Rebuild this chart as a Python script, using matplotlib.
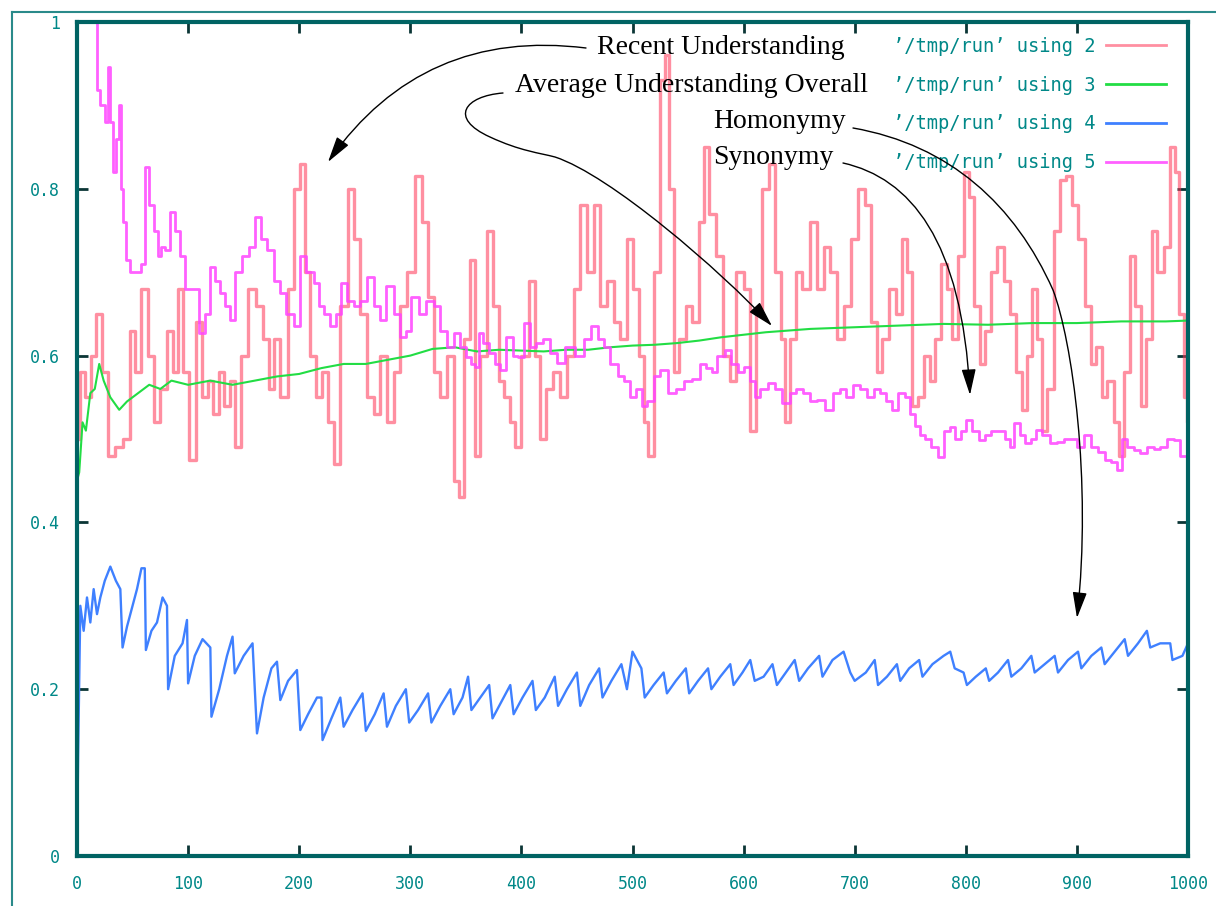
import matplotlib
matplotlib.use("Agg")
import matplotlib.pyplot as plt
from matplotlib.path import Path
from matplotlib.patches import FancyArrowPatch
from matplotlib.lines import Line2D

# column 2: recent understanding
recent_x = [0, 5, 10, 15, 20, 25, 30, 38, 45, 50, 55, 61, 66, 72, 78, 84, 88, 93, 98, 104,
            110, 115, 120, 125, 130, 135, 140, 145, 150, 157, 165, 170, 175, 180, 186, 193,
            198, 203, 208, 212, 218, 223, 228, 234, 240, 247, 252, 258, 264, 270, 276, 282,
            288, 294, 300, 308, 313, 318, 324, 330, 336, 342, 345, 351, 356, 360, 366, 372,
            377, 382, 387, 393, 396, 403, 410, 415, 419, 425, 432, 438, 444, 450, 456, 462,
            468, 474, 480, 486, 492, 498, 503, 508, 512, 516, 522, 527, 531, 535, 539, 545,
            551, 557, 563, 566, 572, 578, 585, 590, 597, 603, 608, 614, 620, 625, 631, 636,
            639, 645, 650, 656, 663, 669, 675, 681, 687, 693, 700, 706, 712, 718, 722, 728,
            734, 740, 745, 750, 754, 760, 765, 770, 775, 781, 786, 790, 796, 801, 805, 810,
            815, 820, 826, 831, 837, 842, 848, 853, 858, 862, 866, 871, 876, 882, 888, 893,
            898, 904, 910, 915, 920, 925, 930, 936, 940, 945, 950, 955, 960, 965, 970, 975,
            981, 986, 990, 994, 998, 1000]
recent_y = [0.50, 0.58, 0.55, 0.60, 0.65, 0.58, 0.48, 0.49, 0.50, 0.63, 0.58, 0.68, 0.60, 0.52,
            0.56, 0.63, 0.58, 0.68, 0.58, 0.475, 0.64, 0.55, 0.57, 0.53, 0.58, 0.54, 0.57, 0.49,
            0.60, 0.68, 0.66, 0.62, 0.56, 0.62, 0.55, 0.68, 0.80, 0.83, 0.70, 0.60, 0.55, 0.58,
            0.52, 0.47, 0.66, 0.80, 0.74, 0.65, 0.55, 0.53, 0.60, 0.52, 0.58, 0.66, 0.70, 0.815,
            0.76, 0.67, 0.58, 0.55, 0.60, 0.45, 0.43, 0.62, 0.715, 0.48, 0.60, 0.75, 0.66, 0.57,
            0.55, 0.52, 0.49, 0.60, 0.69, 0.60, 0.50, 0.56, 0.58, 0.55, 0.60, 0.68, 0.78, 0.70,
            0.78, 0.66, 0.69, 0.64, 0.62, 0.74, 0.68, 0.60, 0.52, 0.48, 0.70, 0.93, 0.96, 0.80,
            0.58, 0.62, 0.66, 0.64, 0.76, 0.85, 0.77, 0.72, 0.60, 0.57, 0.70, 0.68, 0.51, 0.65,
            0.80, 0.83, 0.70, 0.62, 0.52, 0.62, 0.70, 0.68, 0.76, 0.68, 0.73, 0.70, 0.62, 0.66,
            0.74, 0.80, 0.78, 0.64, 0.58, 0.62, 0.68, 0.65, 0.74, 0.70, 0.54, 0.55, 0.60, 0.57,
            0.62, 0.71, 0.68, 0.62, 0.72, 0.82, 0.79, 0.66, 0.59, 0.63, 0.70, 0.73, 0.69, 0.65,
            0.58, 0.535, 0.60, 0.68, 0.62, 0.51, 0.56, 0.75, 0.81, 0.815, 0.78, 0.74, 0.66, 0.59,
            0.61, 0.55, 0.57, 0.52, 0.48, 0.58, 0.72, 0.66, 0.54, 0.62, 0.75, 0.70, 0.73, 0.85,
            0.82, 0.65, 0.55, 0.52]

# column 3: average understanding overall
average_x = [0, 2, 5, 8, 12, 16, 20, 24, 30, 38, 45, 55, 65, 75, 85, 100, 120, 140, 160, 180,
             200, 220, 240, 260, 280, 300, 320, 340, 360, 380, 400, 420, 440, 460, 480, 500,
             520, 540, 560, 580, 600, 620, 640, 660, 680, 700, 740, 780, 820, 860, 900, 940,
             980, 1000]
average_y = [0.45, 0.46, 0.52, 0.51, 0.555, 0.56, 0.59, 0.57, 0.55, 0.535, 0.545, 0.555, 0.565,
             0.56, 0.57, 0.565, 0.57, 0.565, 0.57, 0.575, 0.578, 0.585, 0.59, 0.59, 0.595, 0.60,
             0.608, 0.61, 0.605, 0.607, 0.606, 0.605, 0.607, 0.607, 0.61, 0.612, 0.613, 0.615,
             0.618, 0.622, 0.625, 0.628, 0.63, 0.632, 0.633, 0.634, 0.636, 0.638, 0.637, 0.639,
             0.639, 0.641, 0.641, 0.642]

# column 4: homonymy
homonymy_x = [0, 1, 3, 6, 9, 12, 15, 18, 21, 25, 30, 35, 39, 41, 45, 50, 54, 58, 61, 62, 67, 72,
              77, 81, 82, 88, 95, 99, 100, 106, 113, 120, 121, 128, 135, 140, 142, 150, 158,
              162, 168, 175, 180, 183, 190, 198, 201, 208, 216, 220, 221, 229, 237, 240, 248,
              257, 260, 268, 276, 279, 287, 296, 299, 307, 316, 319, 327, 336, 339, 347, 352,
              355, 363, 371, 374, 382, 390, 393, 401, 410, 413, 421, 430, 433, 441, 450, 453,
              461, 470, 473, 481, 490, 495, 500, 508, 511, 519, 528, 531, 539, 548, 551, 559,
              568, 571, 579, 588, 591, 599, 606, 610, 618, 626, 630, 638, 646, 650, 658, 668,
              671, 680, 690, 696, 700, 710, 718, 721, 729, 738, 741, 749, 758, 761, 770, 780,
              786, 790, 798, 801, 809, 818, 821, 829, 838, 841, 850, 859, 862, 871, 880, 883,
              892, 901, 904, 913, 922, 925, 934, 943, 946, 955, 963, 966, 975, 984, 986, 995,
              1000]
homonymy_y = [0.0, 0.12, 0.30, 0.27, 0.31, 0.28, 0.32, 0.29, 0.31, 0.33, 0.347, 0.33, 0.32,
              0.25, 0.275, 0.30, 0.32, 0.345, 0.345, 0.247, 0.27, 0.28, 0.31, 0.30, 0.20, 0.24,
              0.255, 0.283, 0.207, 0.24, 0.26, 0.25, 0.167, 0.20, 0.24, 0.263, 0.219, 0.24,
              0.255, 0.147, 0.19, 0.225, 0.233, 0.187, 0.21, 0.223, 0.151, 0.17, 0.19, 0.19,
              0.139, 0.165, 0.19, 0.155, 0.175, 0.195, 0.15, 0.17, 0.195, 0.155, 0.18, 0.20,
              0.16, 0.175, 0.195, 0.16, 0.18, 0.20, 0.17, 0.19, 0.215, 0.175, 0.19, 0.205, 0.165,
              0.185, 0.205, 0.17, 0.19, 0.21, 0.175, 0.19, 0.215, 0.18, 0.20, 0.22, 0.18, 0.205,
              0.225, 0.19, 0.21, 0.23, 0.20, 0.245, 0.225, 0.19, 0.205, 0.22, 0.195, 0.21, 0.225,
              0.195, 0.21, 0.225, 0.20, 0.215, 0.23, 0.205, 0.22, 0.235, 0.21, 0.215, 0.23,
              0.205, 0.22, 0.235, 0.21, 0.225, 0.24, 0.215, 0.235, 0.245, 0.22, 0.21, 0.22,
              0.235, 0.205, 0.215, 0.23, 0.21, 0.225, 0.235, 0.215, 0.23, 0.24, 0.245, 0.225,
              0.22, 0.205, 0.215, 0.225, 0.21, 0.22, 0.235, 0.215, 0.225, 0.24, 0.22, 0.23, 0.24,
              0.22, 0.235, 0.245, 0.225, 0.24, 0.25, 0.23, 0.245, 0.26, 0.24, 0.255, 0.27, 0.25,
              0.255, 0.255, 0.235, 0.24, 0.255]

# column 5: synonymy
synonymy_x = [0, 17, 19, 23, 27, 28, 31, 34, 37, 39, 40, 42, 46, 50, 55, 60, 63, 67, 72, 74, 78,
              81, 86, 90, 95, 100, 107, 113, 117, 122, 127, 131, 136, 140, 145, 152, 158, 163,
              168, 174, 180, 185, 192, 198, 203, 210, 216, 220, 225, 231, 236, 240, 246, 252,
              258, 264, 270, 275, 282, 288, 294, 298, 304, 311, 318, 324, 330, 336, 342, 348,
              352, 357, 360, 363, 368, 374, 379, 383, 390, 395, 399, 405, 410, 416, 423, 429,
              435, 444, 453, 460, 466, 472, 477, 483, 490, 495, 500, 506, 511, 516, 522, 528,
              536, 543, 550, 558, 563, 570, 573, 580, 586, 592, 598, 603, 608, 612, 618, 626,
              631, 639, 644, 650, 657, 663, 670, 677, 684, 689, 695, 702, 708, 714, 720, 726,
              731, 736, 742, 748, 752, 757, 761, 766, 772, 778, 783, 788, 793, 798, 803, 808,
              815, 820, 826, 832, 838, 841, 846, 851, 856, 861, 866, 872, 880, 885, 892, 897,
              903, 910, 916, 922, 928, 934, 939, 942, 948, 954, 960, 966, 972, 978, 985, 990,
              995, 1000]
synonymy_y = [1.0, 1.0, 0.918, 0.90, 0.88, 0.946, 0.88, 0.82, 0.86, 0.90, 0.80, 0.76, 0.715,
              0.70, 0.70, 0.71, 0.826, 0.78, 0.75, 0.72, 0.73, 0.727, 0.772, 0.75, 0.72, 0.68,
              0.68, 0.627, 0.65, 0.706, 0.69, 0.675, 0.66, 0.643, 0.70, 0.72, 0.73, 0.766, 0.74,
              0.727, 0.69, 0.675, 0.65, 0.635, 0.72, 0.70, 0.687, 0.66, 0.65, 0.635, 0.65, 0.687,
              0.665, 0.66, 0.665, 0.694, 0.66, 0.643, 0.683, 0.65, 0.622, 0.63, 0.67, 0.65,
              0.665, 0.66, 0.63, 0.61, 0.627, 0.61, 0.598, 0.59, 0.586, 0.627, 0.615, 0.603,
              0.59, 0.583, 0.622, 0.60, 0.598, 0.639, 0.61, 0.615, 0.62, 0.603, 0.591, 0.61,
              0.60, 0.62, 0.635, 0.62, 0.61, 0.59, 0.575, 0.57, 0.55, 0.56, 0.54, 0.545, 0.575,
              0.583, 0.555, 0.56, 0.57, 0.572, 0.59, 0.585, 0.58, 0.60, 0.607, 0.59, 0.58, 0.586,
              0.57, 0.55, 0.56, 0.567, 0.56, 0.543, 0.555, 0.56, 0.555, 0.545, 0.547, 0.535,
              0.555, 0.56, 0.55, 0.565, 0.56, 0.55, 0.56, 0.555, 0.545, 0.535, 0.555, 0.55, 0.53,
              0.515, 0.505, 0.50, 0.49, 0.479, 0.51, 0.514, 0.50, 0.51, 0.523, 0.51, 0.499,
              0.505, 0.51, 0.51, 0.50, 0.49, 0.519, 0.505, 0.495, 0.50, 0.511, 0.505, 0.495,
              0.497, 0.50, 0.50, 0.49, 0.505, 0.49, 0.485, 0.475, 0.472, 0.463, 0.50, 0.49, 0.487,
              0.483, 0.49, 0.488, 0.49, 0.50, 0.499, 0.48, 0.48]

labels = ["\u2019/tmp/run\u2019 using 2", "\u2019/tmp/run\u2019 using 3",
          "\u2019/tmp/run\u2019 using 4", "\u2019/tmp/run\u2019 using 5"]
xticks = list(range(0, 1001, 100))
yticks = [0, 0.2, 0.4, 0.6, 0.8, 1]
yticklabels = ["0", "0.2", "0.4", "0.6", "0.8", "1"]

W, H = 1216, 906
TEAL = "#008888"
FRAME = "#006363"


def px(x, y):
    # image pixel -> figure fraction
    return (x / W, 1 - y / H)


def curve(points):
    # points: start followed by groups of three cubic bezier points (image pixels)
    verts = [px(*p) for p in points]
    codes = [Path.MOVETO] + [Path.CURVE4] * (len(points) - 1)
    return Path(verts, codes)


def main() -> None:
    fig = plt.figure(figsize=(12.16, 9.06), dpi=100)
    ax = fig.add_axes([77 / W, 1 - 856 / H, (1188 - 77) / W, (856 - 22) / H])

    ax.plot(recent_x, recent_y, color="#ff3355", lw=2.4, alpha=0.55,
            drawstyle="steps-mid", label=labels[0])
    ax.plot(average_x, average_y, color="#22dd44", lw=1.5, label=labels[1])
    ax.plot(homonymy_x, homonymy_y, color="#3f80ff", lw=1.7, label=labels[2])
    ax.plot(synonymy_x, synonymy_y, color="#ff44ff", lw=2.0, alpha=0.85,
            drawstyle="steps-mid", label=labels[3])

    ax.set_xlim(0, 1000)
    ax.set_ylim(0, 1)
    ax.set_xticks(xticks)
    ax.set_yticks(yticks)
    ax.set_yticklabels(yticklabels)
    ax.tick_params(direction="in", length=8, width=2, color="#0b3535",
                   labelcolor=TEAL, labelsize=12, top=True, right=True)
    ax.tick_params(axis="x", pad=14)
    ax.tick_params(axis="y", pad=12)
    for lab in ax.get_xticklabels() + ax.get_yticklabels():
        lab.set_family("DejaVu Sans Mono")
    for side in ax.spines.values():
        side.set_color(FRAME)
        side.set_linewidth(3)

    leg = ax.legend(loc="upper right", bbox_to_anchor=px(1166, 37),
                    bbox_transform=fig.transFigure, markerfirst=False, frameon=False,
                    prop={"family": "DejaVu Sans Mono", "size": 13.5},
                    labelcolor=TEAL, handlelength=3.2, handletextpad=0.55,
                    labelspacing=1.05, borderpad=0, borderaxespad=0)
    for h in leg.get_lines():
        h.set_linewidth(2)

    # outer frame of the picture
    fig.add_artist(Line2D([12 / W, 12 / W], [0, 1 - 12 / H], color="#2a8a8a", lw=1.5))
    fig.add_artist(Line2D([12 / W, 1], [1 - 12 / H, 1 - 12 / H], color="#2a8a8a", lw=1.5))

    serif = {"family": "Liberation Serif", "fontsize": 20, "va": "center", "ha": "left"}
    fig.text(*px(597, 48), "Recent Understanding", **serif)
    fig.text(*px(515, 85), "Average Understanding Overall", **serif)
    fig.text(*px(713, 121), "Homonymy", **serif)
    fig.text(*px(713, 158), "Synonymy", **serif)

    style = "-|>,head_length=0.8,head_width=0.22"
    fig.add_artist(FancyArrowPatch(posA=px(586, 48), posB=px(328, 162),
                                   connectionstyle="arc3,rad=0.3", arrowstyle=style,
                                   mutation_scale=20, lw=1, color="black",
                                   shrinkA=0, shrinkB=0, transform=fig.transFigure))
    paths = [
        curve([(503, 93), (465, 96), (448, 118), (490, 137),
               (520, 151), (540, 153), (555, 157),
               (610, 175), (720, 270), (772, 326)]),
        curve([(853, 128), (950, 145), (1015, 205), (1053, 290),
               (1072, 340), (1092, 480), (1077, 618)]),
        curve([(843, 163), (910, 178), (962, 240), (970, 395)]),
    ]
    for p in paths:
        fig.add_artist(FancyArrowPatch(path=p, arrowstyle=style, mutation_scale=20,
                                       lw=1, color="black", transform=fig.transFigure))

    fig.savefig("out.png", dpi=100)


if __name__ == "__main__":
    main()
